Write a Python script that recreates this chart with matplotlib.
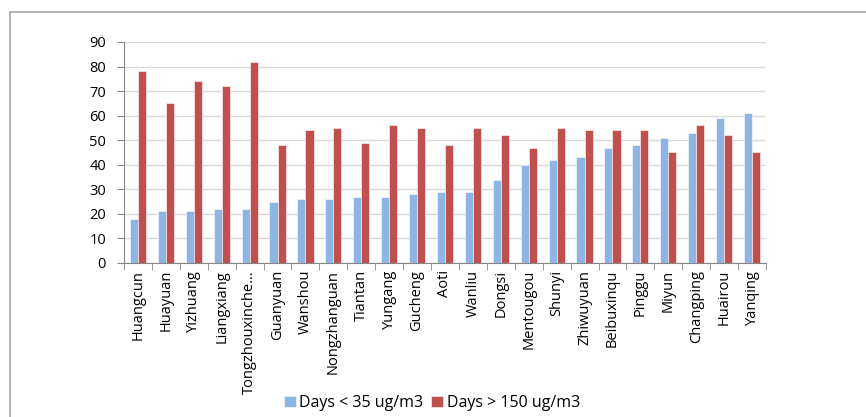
import matplotlib

matplotlib.use("Agg")
import matplotlib.pyplot as plt
import numpy as np
from matplotlib.patches import Rectangle

stations = [
    "Huangcun", "Huayuan", "Yizhuang", "Liangxiang", "Tongzhouxinche\u2026",
    "Guanyuan", "Wanshou", "Nongzhanguan", "Tiantan", "Yungang", "Gucheng",
    "Aoti", "Wanliu", "Dongsi", "Mentougou", "Shunyi", "Zhiwuyuan",
    "Beibuxinqu", "Pinggu", "Miyun", "Changping", "Huairou", "Yanqing",
]
days_clean = [18, 21, 21, 22, 22, 25, 26, 26, 27, 27, 28, 29, 29, 34, 40,
              42, 43, 47, 48, 51, 53, 59, 61]
days_polluted = [78, 65, 74, 72, 82, 48, 54, 55, 49, 56, 55, 48, 55, 52, 47,
                 55, 54, 54, 54, 45, 56, 52, 45]

plt.rcParams["font.family"] = ["Open Sans", "DejaVu Sans"]

fig = plt.figure(figsize=(8.66, 4.17), dpi=100)
ax = fig.add_axes([124 / 866, 1 - 263 / 417, 642 / 866, 221 / 417])

# chart border like the spreadsheet frame
fig.patches.append(Rectangle((10 / 866, -0.1), 1.2, 1 - 12 / 417 + 0.1,
                             transform=fig.transFigure, fill=False,
                             edgecolor="#a6a6a6", linewidth=1.2))

x = np.arange(len(stations))
w = 0.29
ax.bar(x - w / 2, days_clean, w, color="#8db4e2", edgecolor="white",
       linewidth=0.4, label="Days < 35 ug/m3", zorder=3)
ax.bar(x + w / 2, days_polluted, w, color="#c0504d", edgecolor="white",
       linewidth=0.4, label="Days > 150 ug/m3", zorder=3)

ax.set_xlim(-0.5, len(stations) - 0.5)
ax.set_ylim(0, 90)
ax.set_yticks(range(0, 91, 10))
ax.grid(axis="y", color="#d9d9d9", linewidth=1, zorder=0)
for side in ["top", "right"]:
    ax.spines[side].set_visible(False)
for side in ["left", "bottom"]:
    ax.spines[side].set_color("#868686")
ax.set_xticks(x)
ax.set_xticklabels(stations, rotation=90, fontsize=10.5)
ax.set_xticks(np.arange(-0.5, len(stations), 1), minor=True)
ax.tick_params(axis="x", which="major", length=0, pad=5)
ax.tick_params(axis="x", which="minor", length=5, color="#868686")
ax.tick_params(axis="y", length=5, color="#868686", labelsize=10.5, pad=8)

ax.legend(loc="center", bbox_to_anchor=(0.5 - 13 / 642, -140 / 221),
          ncol=2, frameon=False, fontsize=11.5, handlelength=0.75,
          handleheight=0.75, handletextpad=0.2, columnspacing=0.5)

fig.savefig("out.png", dpi=100)
plt.close(fig)
